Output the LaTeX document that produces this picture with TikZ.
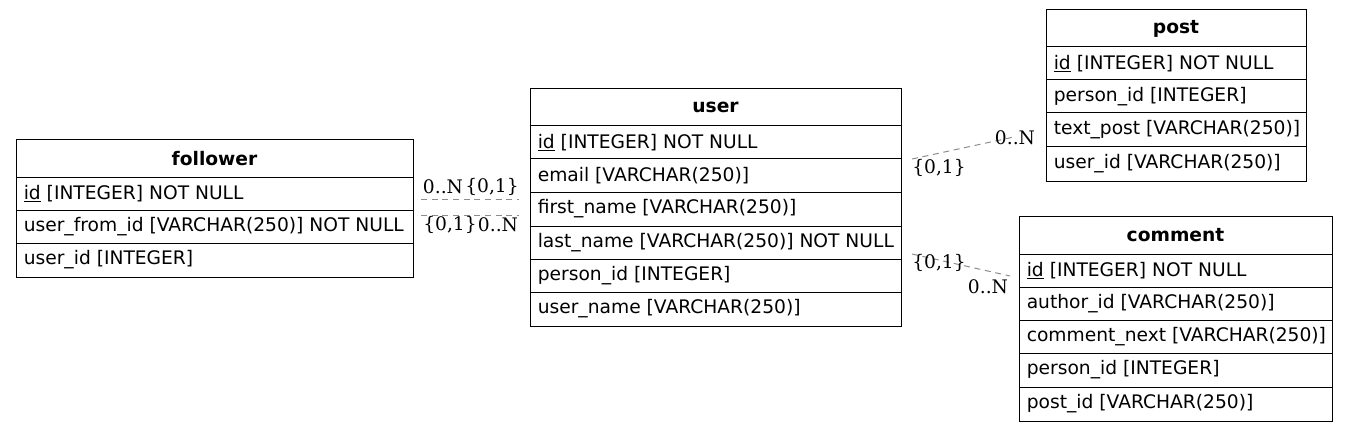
\documentclass[tikz,border=0pt]{standalone}
\usepackage{fontspec}
\setmainfont{DejaVu Sans}
\newfontfamily\lblfont{DejaVu Serif}
\usetikzlibrary{fit}
\newcommand\tcell[6]{%
  \path (#2,#3) coordinate (#1-a) (#4,#5) coordinate (#1-b);
  \node[cell, fit=(#1-a)(#1-b)] (#1) {};
  \node[txt] (#1-t) at ([xshift=6pt]#1.west) {#6};}
\newcommand\thead[6]{%
  \path (#2,#3) coordinate (#1-a) (#4,#5) coordinate (#1-b);
  \node[cell, fit=(#1-a)(#1-b)] (#1) {};
  \node[hdr] (#1-t) at (#1.center) {#6};}
\begin{document}
\begin{tikzpicture}[x=0.75pt,y=-0.75pt,
  cell/.style={draw, inner sep=0pt, line width=0.75pt},
  txt/.style={anchor=west, inner sep=0pt, font=\fontsize{14}{16}\selectfont},
  hdr/.style={inner sep=0pt, font=\fontsize{14}{16}\selectfont\bfseries},
  lbl/.style={inner sep=0pt, font=\lblfont\fontsize{14}{16}\selectfont},
  conn/.style={draw=black!45, dash pattern=on 4.5pt off 3.5pt, line width=0.75pt}]
\useasboundingbox (0,0) rectangle (1348,431);
% follower
\thead{f0}{16}{140}{413}{177}{follower}
\tcell{f1}{16}{177}{413}{210}{\underline{id} [INTEGER] NOT NULL}
\tcell{f2}{16}{210}{413}{243}{user\_from\_id [VARCHAR(250)] NOT NULL}
\tcell{f3}{16}{243}{413}{277}{user\_id [INTEGER]}
% user
\thead{u0}{530}{89}{901}{126}{user}
\tcell{u1}{530}{126}{901}{159}{\underline{id} [INTEGER] NOT NULL}
\tcell{u2}{530}{159}{901}{192}{email [VARCHAR(250)]}
\tcell{u3}{530}{192}{901}{226}{first\_name [VARCHAR(250)]}
\tcell{u4}{530}{226}{901}{259}{last\_name [VARCHAR(250)] NOT NULL}
\tcell{u5}{530}{259}{901}{292}{person\_id [INTEGER]}
\tcell{u6}{530}{292}{901}{326}{user\_name [VARCHAR(250)]}
% post
\thead{p0}{1046}{10}{1306}{47}{post}
\tcell{p1}{1046}{47}{1306}{80}{\underline{id} [INTEGER] NOT NULL}
\tcell{p2}{1046}{80}{1306}{113}{person\_id [INTEGER]}
\tcell{p3}{1046}{113}{1306}{147}{text\_post [VARCHAR(250)]}
\tcell{p4}{1046}{147}{1306}{181}{user\_id [VARCHAR(250)]}
% comment
\thead{c0}{1019}{216}{1332}{254}{comment}
\tcell{c1}{1019}{254}{1332}{287}{\underline{id} [INTEGER] NOT NULL}
\tcell{c2}{1019}{287}{1332}{320}{author\_id [VARCHAR(250)]}
\tcell{c3}{1019}{320}{1332}{353}{comment\_next [VARCHAR(250)]}
\tcell{c4}{1019}{353}{1332}{387}{person\_id [INTEGER]}
\tcell{c5}{1019}{387}{1332}{421}{post\_id [VARCHAR(250)]}
% connector end points
\coordinate (e1a) at (421,199);
\coordinate (e1b) at (519,199);
\coordinate (e2a) at (421,215);
\coordinate (e2b) at (519,215);
\coordinate (e3a) at (912,159);
\coordinate (e3b) at (1014,137);
\coordinate (e4a) at (912,254);
\coordinate (e4b) at (1010,276);
\draw[conn] (e1a) -- (e1b);
\draw[conn] (e2a) -- (e2b);
\draw[conn] (e3a) -- (e3b);
\draw[conn] (e4a) -- (e4b);
% labels
\node[lbl] (l1a) at (443,187) {0..N};
\node[lbl] (l1b) at (492,187) {\{0,1\}};
\node[lbl] (l2a) at (450,225) {\{0,1\}};
\node[lbl] (l2b) at (498,225) {0..N};
\node[lbl] (l3a) at (1015,138) {0..N};
\node[lbl] (l3b) at (939,168) {\{0,1\}};
\node[lbl] (l4a) at (939,263) {\{0,1\}};
\node[lbl] (l4b) at (988,287) {0..N};
\end{tikzpicture}
\end{document}
